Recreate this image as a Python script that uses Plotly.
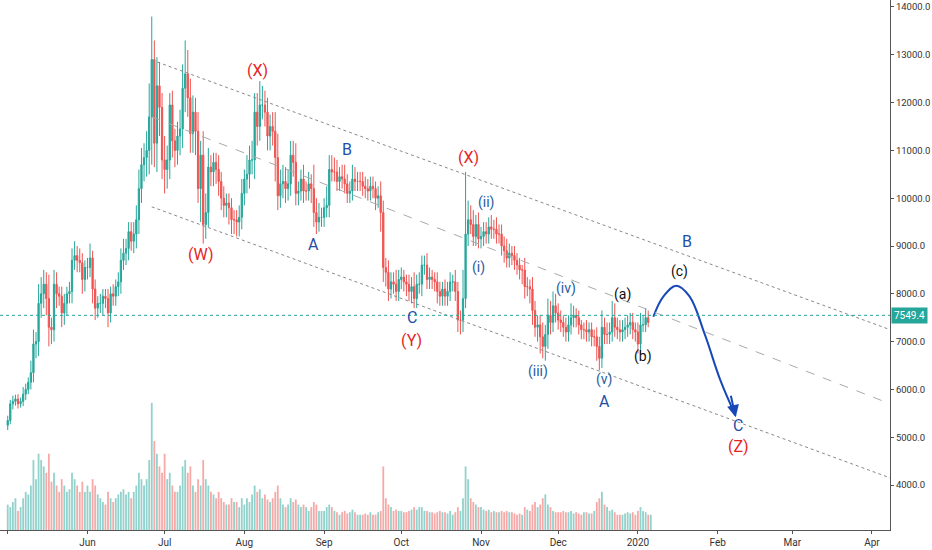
import plotly.graph_objects as go
import pandas as pd

start = "2019-05-01"
closes = [
 # May
 5350,5700,5750,5800,5700,5750,5900,6000,6150,6350,6950,7000,7800,8000,8200,7900,7300,7250,8200,8000,7950,7600,7800,8000,8050,8700,8800,8700,8650,8300,8550,
 # Jun
 8550,8750,8100,7700,7800,7800,7950,7900,7600,8000,7950,8150,8250,8700,8850,8950,9300,9100,9250,9550,10200,10700,10850,11000,11700,12900,11150,12350,11900,10800,
 # Jul
 10600,10800,11950,11200,11000,11300,11450,12300,12600,12100,11350,11800,11400,10200,10900,9450,9700,10650,10550,10750,10600,10350,10000,9850,9900,9800,9550,9550,9500,9600,10100,
 # Aug
 10400,10500,10800,10800,11800,11500,11950,11950,11800,11300,11500,11400,10850,10050,10300,10350,10200,10300,10900,10750,10100,10150,10400,10150,10150,10300,10200,9700,9500,9600,9600,
 # Sep
 9800,9850,10600,10550,10550,10350,10450,10400,10300,10100,10150,10400,10350,10350,10350,10250,10200,10150,10250,10200,10000,10050,9700,8550,8450,8100,8250,8200,8050,8300,
 # Oct
 8350,8250,8200,8050,8150,7900,8200,8200,8600,8600,8300,8350,8300,8250,8050,7950,8100,7950,8050,8250,8250,8050,7450,7450,7900,9250,9550,9450,9200,9450,9150,
 # Nov
 9200,9300,9250,9400,9350,9350,9250,9250,9000,8900,8750,8850,8800,8700,8600,8500,8500,8150,8150,8100,7650,7300,7350,7100,6900,7150,7550,7400,7750,7600,
 # Dec
 7450,7400,7300,7200,7350,7500,7550,7500,7350,7250,7250,7200,7250,7100,7100,6900,6650,7300,7150,7150,7200,7500,7300,7250,7200,7250,7300,7350,7400,7250,7200,
 # Jan
 6950,7350,7350,7500,7400,7549.4]
wick_up = [
 100,80,120,90,100,80,150,120,100,250,300,200,400,350,300,250,500,200,300,250,150,200,200,150,200,250,300,200,250,200,150,
 200,300,150,200,150,200,150,150,200,150,200,150,200,250,300,200,200,200,250,300,400,350,300,400,700,900,400,600,500,300,
 500,300,250,300,250,300,400,500,700,500,400,350,300,400,300,500,400,400,250,200,200,300,200,250,200,200,200,200,200,250,300,
 200,400,300,400,400,400,500,400,300,300,250,300,400,500,300,350,300,300,300,300,400,200,200,300,200,250,200,500,300,300,200,
 200,400,300,300,300,250,200,250,300,200,200,300,250,200,200,200,200,200,200,200,150,200,300,250,200,250,200,200,300,200,
 200,150,150,200,200,300,200,250,200,200,250,200,150,150,200,200,150,200,200,200,150,250,200,200,600,1300,400,300,300,200,250,
 200,200,200,200,250,200,250,200,200,200,250,200,150,200,150,150,100,250,200,150,250,200,200,200,300,200,350,300,300,250,
 200,200,150,200,200,300,200,150,150,100,150,200,150,150,150,200,200,350,200,250,200,350,300,200,200,200,200,200,200,200,150,
 200,250,200,200,150,100]
wick_dn = [
 100,80,120,90,100,80,100,120,100,150,200,300,300,300,300,350,400,300,250,300,200,300,250,250,200,250,200,250,200,300,250,
 250,200,300,250,200,200,250,200,300,200,200,200,200,250,200,250,250,200,250,300,300,300,350,400,500,1000,500,600,600,
 400,500,400,400,350,350,300,400,400,500,400,400,400,500,300,700,400,300,300,300,300,300,300,250,250,250,350,300,300,300,300,
 250,250,300,300,300,400,400,300,300,300,300,300,300,500,300,250,300,300,250,250,300,250,250,200,250,200,200,300,300,250,200,
 200,200,200,250,200,200,200,200,200,200,200,200,200,200,200,200,200,200,200,200,200,250,200,400,300,300,250,200,200,200,
 200,200,200,250,200,250,200,200,200,250,200,200,200,200,200,250,200,200,200,200,200,200,200,250,300,250,200,250,200,200,200,
 200,200,200,200,200,200,200,200,200,200,250,200,200,200,200,200,200,300,250,200,300,300,200,300,350,250,300,300,250,200,
 200,200,200,200,200,200,200,200,200,200,200,200,200,200,200,200,300,250,200,200,200,200,200,200,200,200,200,200,200,200,200,
 200,200,200,150,150,100]
volumes = [
 20,18,22,25,15,18,25,30,28,35,55,40,60,55,50,45,60,38,45,35,30,40,35,30,32,45,40,35,30,38,30,
 35,30,40,35,28,25,22,20,30,25,22,25,28,30,32,28,30,25,30,35,45,40,35,40,55,100,70,60,50,45,
 60,40,45,35,30,30,35,50,55,45,50,35,30,40,35,55,40,35,30,28,25,30,25,22,20,20,25,22,22,18,25,
 20,25,22,28,35,30,32,25,28,24,22,25,30,35,25,20,18,20,25,22,24,20,18,20,18,15,18,22,20,15,15,
 15,18,20,18,15,14,12,14,15,13,14,16,14,12,12,12,13,12,14,12,12,14,15,50,25,20,18,15,16,15,
 15,14,14,15,16,18,16,18,18,15,15,14,14,13,14,15,14,14,13,15,12,14,18,15,25,50,40,25,22,20,18,
 18,16,15,16,14,15,14,14,15,14,15,14,14,13,12,13,12,18,16,15,20,22,18,20,25,28,20,18,15,14,
 14,14,15,14,14,15,13,14,13,12,14,14,13,13,15,22,25,30,20,18,15,16,14,12,12,12,13,14,13,14,12,
 15,18,15,14,12,12]

dates = pd.date_range(start, periods=len(closes), freq="D")
opens = [closes[0] - 100] + closes[:-1]
highs = [max(o, c) + w for o, c, w in zip(opens, closes, wick_up)]
lows = [min(o, c) - w for o, c, w in zip(opens, closes, wick_dn)]
UP, DN = "#26a69a", "#ef5350"
vol_colors = ["rgba(38,166,154,0.5)" if c >= o else "rgba(239,83,80,0.5)" for o, c in zip(opens, closes)]
last_price = closes[-1]

fig = go.Figure()
fig.add_trace(go.Bar(x=dates, y=volumes, marker_color=vol_colors, marker_line_width=0,
                     yaxis="y2", showlegend=False, width=86400000 * 0.7))
fig.add_trace(go.Candlestick(x=dates, open=opens, high=highs, low=lows, close=closes,
                             increasing=dict(line=dict(color=UP, width=1), fillcolor=UP),
                             decreasing=dict(line=dict(color=DN, width=1), fillcolor=DN),
                             whiskerwidth=0, showlegend=False))

chan = [("2019-06-26", 12890, "2020-04-08", 7250, "dot", "#888"),
        ("2019-06-26", 11700, "2020-04-08", 5700, "dash", "#aaa"),
        ("2019-06-26", 9820, "2020-04-08", 4150, "dot", "#888")]
for x0, y0, x1, y1, dsh, col in chan:
    fig.add_shape(type="line", x0=x0, y0=y0, x1=x1, y1=y1, xref="x", yref="y",
                  line=dict(color=col, width=1, dash=dsh))
fig.add_shape(type="line", x0=0, x1=1, xref="paper", y0=last_price, y1=last_price, yref="y",
              line=dict(color=UP, width=1, dash="dot"))

proj_x = ["2020-01-07", "2020-01-11", "2020-01-16", "2020-01-21", "2020-01-27", "2020-02-02", "2020-02-08"]
proj_y = [7520, 7950, 8170, 7950, 7150, 6200, 5450]
fig.add_trace(go.Scatter(x=proj_x, y=proj_y, mode="lines", line=dict(color="#1848b8", width=2, shape="spline", smoothing=1.1),
                         showlegend=False, hoverinfo="skip"))
fig.add_annotation(x="2020-02-08", y=5420, ax="2020-02-06", ay=5900, xref="x", yref="y", axref="x", ayref="y",
                   showarrow=True, arrowhead=2, arrowsize=1.2, arrowwidth=2, arrowcolor="#1848b8", text="")

RED, BLUE, NAVY, BLK = "#e8231e", "#1f4fa8", "#2a5d9f", "#111"
labels = [("(X)", "2019-08-06", 12680, RED), ("(W)", "2019-07-15", 8830, RED),
          ("A", "2019-08-28", 9040, BLUE), ("B", "2019-09-10", 11010, BLUE),
          ("C", "2019-10-05", 7510, BLUE), ("(Y)", "2019-10-05", 7030, RED),
          ("(X)", "2019-10-27", 10860, RED), ("(ii)", "2019-11-03", 9920, NAVY),
          ("(i)", "2019-10-31", 8560, NAVY), ("(iv)", "2019-12-04", 8120, NAVY),
          ("(iii)", "2019-11-23", 6380, NAVY), ("(v)", "2019-12-19", 6200, NAVY),
          ("A", "2019-12-19", 5740, BLUE), ("(a)", "2019-12-26", 7980, BLK),
          ("(b)", "2020-01-03", 6680, BLK), ("(c)", "2020-01-17", 8460, BLK),
          ("B", "2020-01-20", 9090, BLUE), ("C", "2020-02-09", 5250, BLUE),
          ("(Z)", "2020-02-09", 4800, RED)]
big = ("(X)", "(W)", "(Y)", "(Z)", "A", "B", "C")
for t, x, y, c in labels:
    fig.add_annotation(x=x, y=y, text=t, showarrow=False, font=dict(color=c, size=16 if t in big else 14))

fig.add_annotation(x=1, xref="paper", xanchor="left", y=last_price, yref="y", text="7549.4",
                   showarrow=False, bgcolor=UP, font=dict(color="white", size=10), xshift=1, borderpad=2)

ticks = list(range(4000, 14001, 1000))
fig.update_layout(
    width=932, height=550, margin=dict(l=0, r=42, t=0, b=20),
    paper_bgcolor="white", plot_bgcolor="white",
    xaxis=dict(range=["2019-04-28", "2020-04-08"], rangeslider=dict(visible=False), showgrid=False,
               tickvals=["2019-05-01", "2019-06-01", "2019-07-01", "2019-08-01", "2019-09-01", "2019-10-01",
                         "2019-11-01", "2019-12-01", "2020-01-01", "2020-02-01", "2020-03-01", "2020-04-01"],
               ticktext=["May", "Jun", "Jul", "Aug", "Sep", "Oct", "Nov", "Dec", "2020", "Feb", "Mar", "Apr"],
               ticks="outside", ticklen=3, tickcolor="#555", showline=True, linecolor="#555",
               tickfont=dict(size=10, color="#333", family="Roboto")),
    yaxis=dict(side="right", range=[3059, 14146], tickvals=ticks, ticktext=[f"{t:.1f}" for t in ticks],
               showgrid=False, ticks="outside", ticklen=3, tickcolor="#555", showline=True, linecolor="#555",
               tickfont=dict(size=9.5, color="#333", family="Roboto")),
    yaxis2=dict(overlaying="y", range=[0, 417], visible=False),
    font=dict(family="Roboto"),
)
fig.write_html("out.html", config={"displayModeBar": False})
with open("out.html", encoding="utf-8") as f:
    html = f.read()
html = html.replace("<head>", "<head><style>html,body{margin:0;padding:0;overflow:hidden}</style>", 1)
with open("out.html", "w", encoding="utf-8") as f:
    f.write(html)
